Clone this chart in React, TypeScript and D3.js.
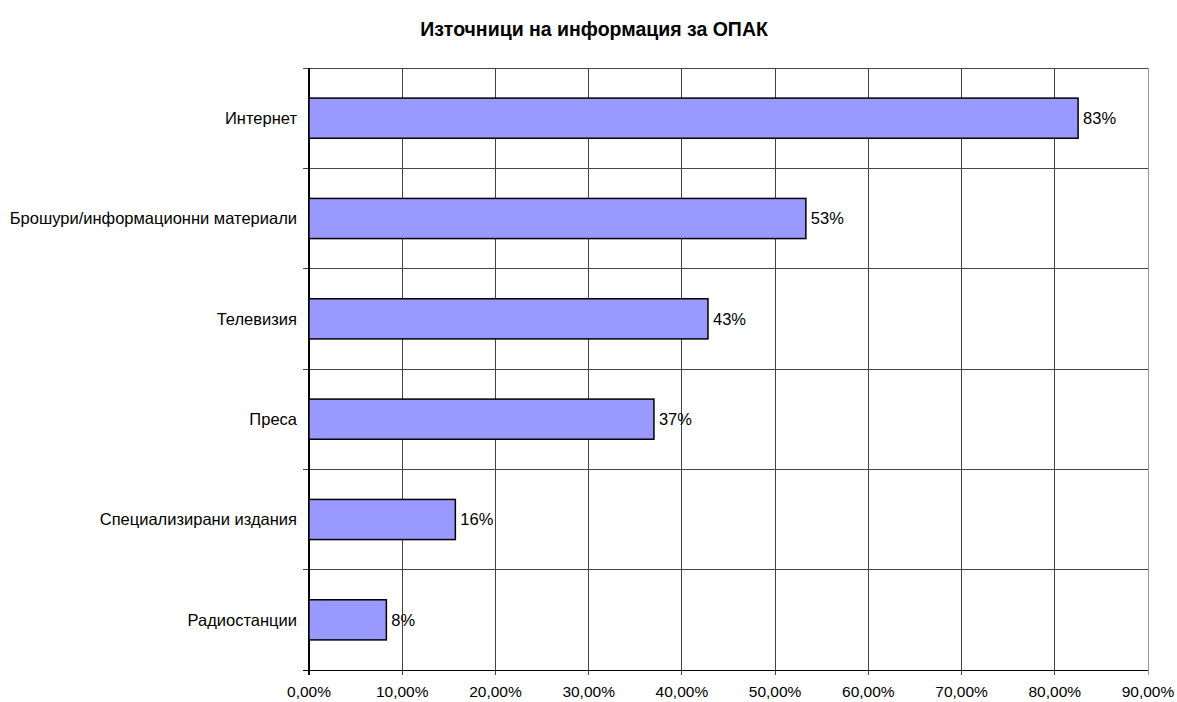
import { useEffect, useRef } from "react";
import * as d3 from "d3";

const TITLE = "Източници на информация за ОПАК";

const CATEGORIES = [
  "Интернет",
  "Брошури/информационни материали",
  "Телевизия",
  "Преса",
  "Специализирани издания",
  "Радиостанции",
];

const VALUES = [0.825, 0.533, 0.428, 0.37, 0.157, 0.083];

const LABELS = ["83%", "53%", "43%", "37%", "16%", "8%"];

const TICKS = [0, 0.1, 0.2, 0.3, 0.4, 0.5, 0.6, 0.7, 0.8, 0.9];

export default function App() {
  const svgRef = useRef<SVGSVGElement>(null);

  useEffect(() => {
    if (!svgRef.current) return;
    const W = 1177;
    const H = 702;
    const margin = { top: 68, right: 29, bottom: 32, left: 309 };
    const width = W - margin.left - margin.right;
    const height = H - margin.top - margin.bottom;

    const svg = d3.select(svgRef.current);
    svg.selectAll("*").remove();
    svg.attr("width", W).attr("height", H).style("font-family", "Arial, 'Liberation Sans', sans-serif");

    svg.append("text")
      .attr("x", 594)
      .attr("y", 36)
      .attr("text-anchor", "middle")
      .attr("font-size", "19.5px")
      .attr("font-weight", "bold")
      .attr("fill", "#000")
      .text(TITLE);

    const g = svg.append("g").attr("transform", `translate(${margin.left},${margin.top})`);

    const x = d3.scaleLinear().domain([0, 0.9]).range([0, width]);
    const y = d3.scaleBand().domain(CATEGORIES).range([0, height]).paddingInner(0.6).paddingOuter(0.3);
    const step = y.step();

    // vertical gridlines
    TICKS.slice(1).forEach((t, i) => {
      g.append("line")
        .attr("x1", x(t)).attr("x2", x(t))
        .attr("y1", 0).attr("y2", height + 5)
        .attr("stroke", i === TICKS.length - 2 ? "#999" : "#444")
        .attr("stroke-width", 1)
        .attr("shape-rendering", "crispEdges");
    });

    // horizontal gridlines + ticks at band boundaries
    d3.range(CATEGORIES.length + 1).forEach((i) => {
      const yy = i * step;
      g.append("line")
        .attr("x1", -6).attr("x2", width)
        .attr("y1", yy).attr("y2", yy)
        .attr("stroke", i === CATEGORIES.length ? "#000" : "#444")
        .attr("stroke-width", 1)
        .attr("shape-rendering", "crispEdges");
    });

    // y axis line
    g.append("line")
      .attr("x1", 0).attr("x2", 0)
      .attr("y1", 0).attr("y2", height + 5)
      .attr("stroke", "#000")
      .attr("stroke-width", 1.5)
      .attr("shape-rendering", "crispEdges");

    // x tick labels
    TICKS.forEach((t) => {
      g.append("text")
        .attr("x", x(t))
        .attr("y", height + 27)
        .attr("text-anchor", "middle")
        .attr("font-size", "15.5px")
        .attr("fill", "#000")
        .text(d3.format(".2f")(t * 100).replace(".", ",") + "%");
    });

    // category labels
    CATEGORIES.forEach((c) => {
      g.append("text")
        .attr("x", -12)
        .attr("y", y(c)! + y.bandwidth() / 2)
        .attr("dy", "0.35em")
        .attr("text-anchor", "end")
        .attr("font-size", "16.5px")
        .attr("fill", "#000")
        .text(c);
    });

    // bars
    CATEGORIES.forEach((c, i) => {
      g.append("rect")
        .attr("x", 0)
        .attr("y", y(c)!)
        .attr("width", x(VALUES[i]))
        .attr("height", y.bandwidth())
        .attr("fill", "#9999ff")
        .attr("stroke", "#000")
        .attr("stroke-width", 1.5);
      g.append("text")
        .attr("x", x(VALUES[i]) + 5)
        .attr("y", y(c)! + y.bandwidth() / 2)
        .attr("dy", "0.35em")
        .attr("font-size", "16.5px")
        .attr("fill", "#000")
        .text(LABELS[i]);
    });
  }, []);

  return (
    <div style={{ position: "absolute", left: 0, top: 0 }}>
      <svg ref={svgRef} />
    </div>
  );
}
